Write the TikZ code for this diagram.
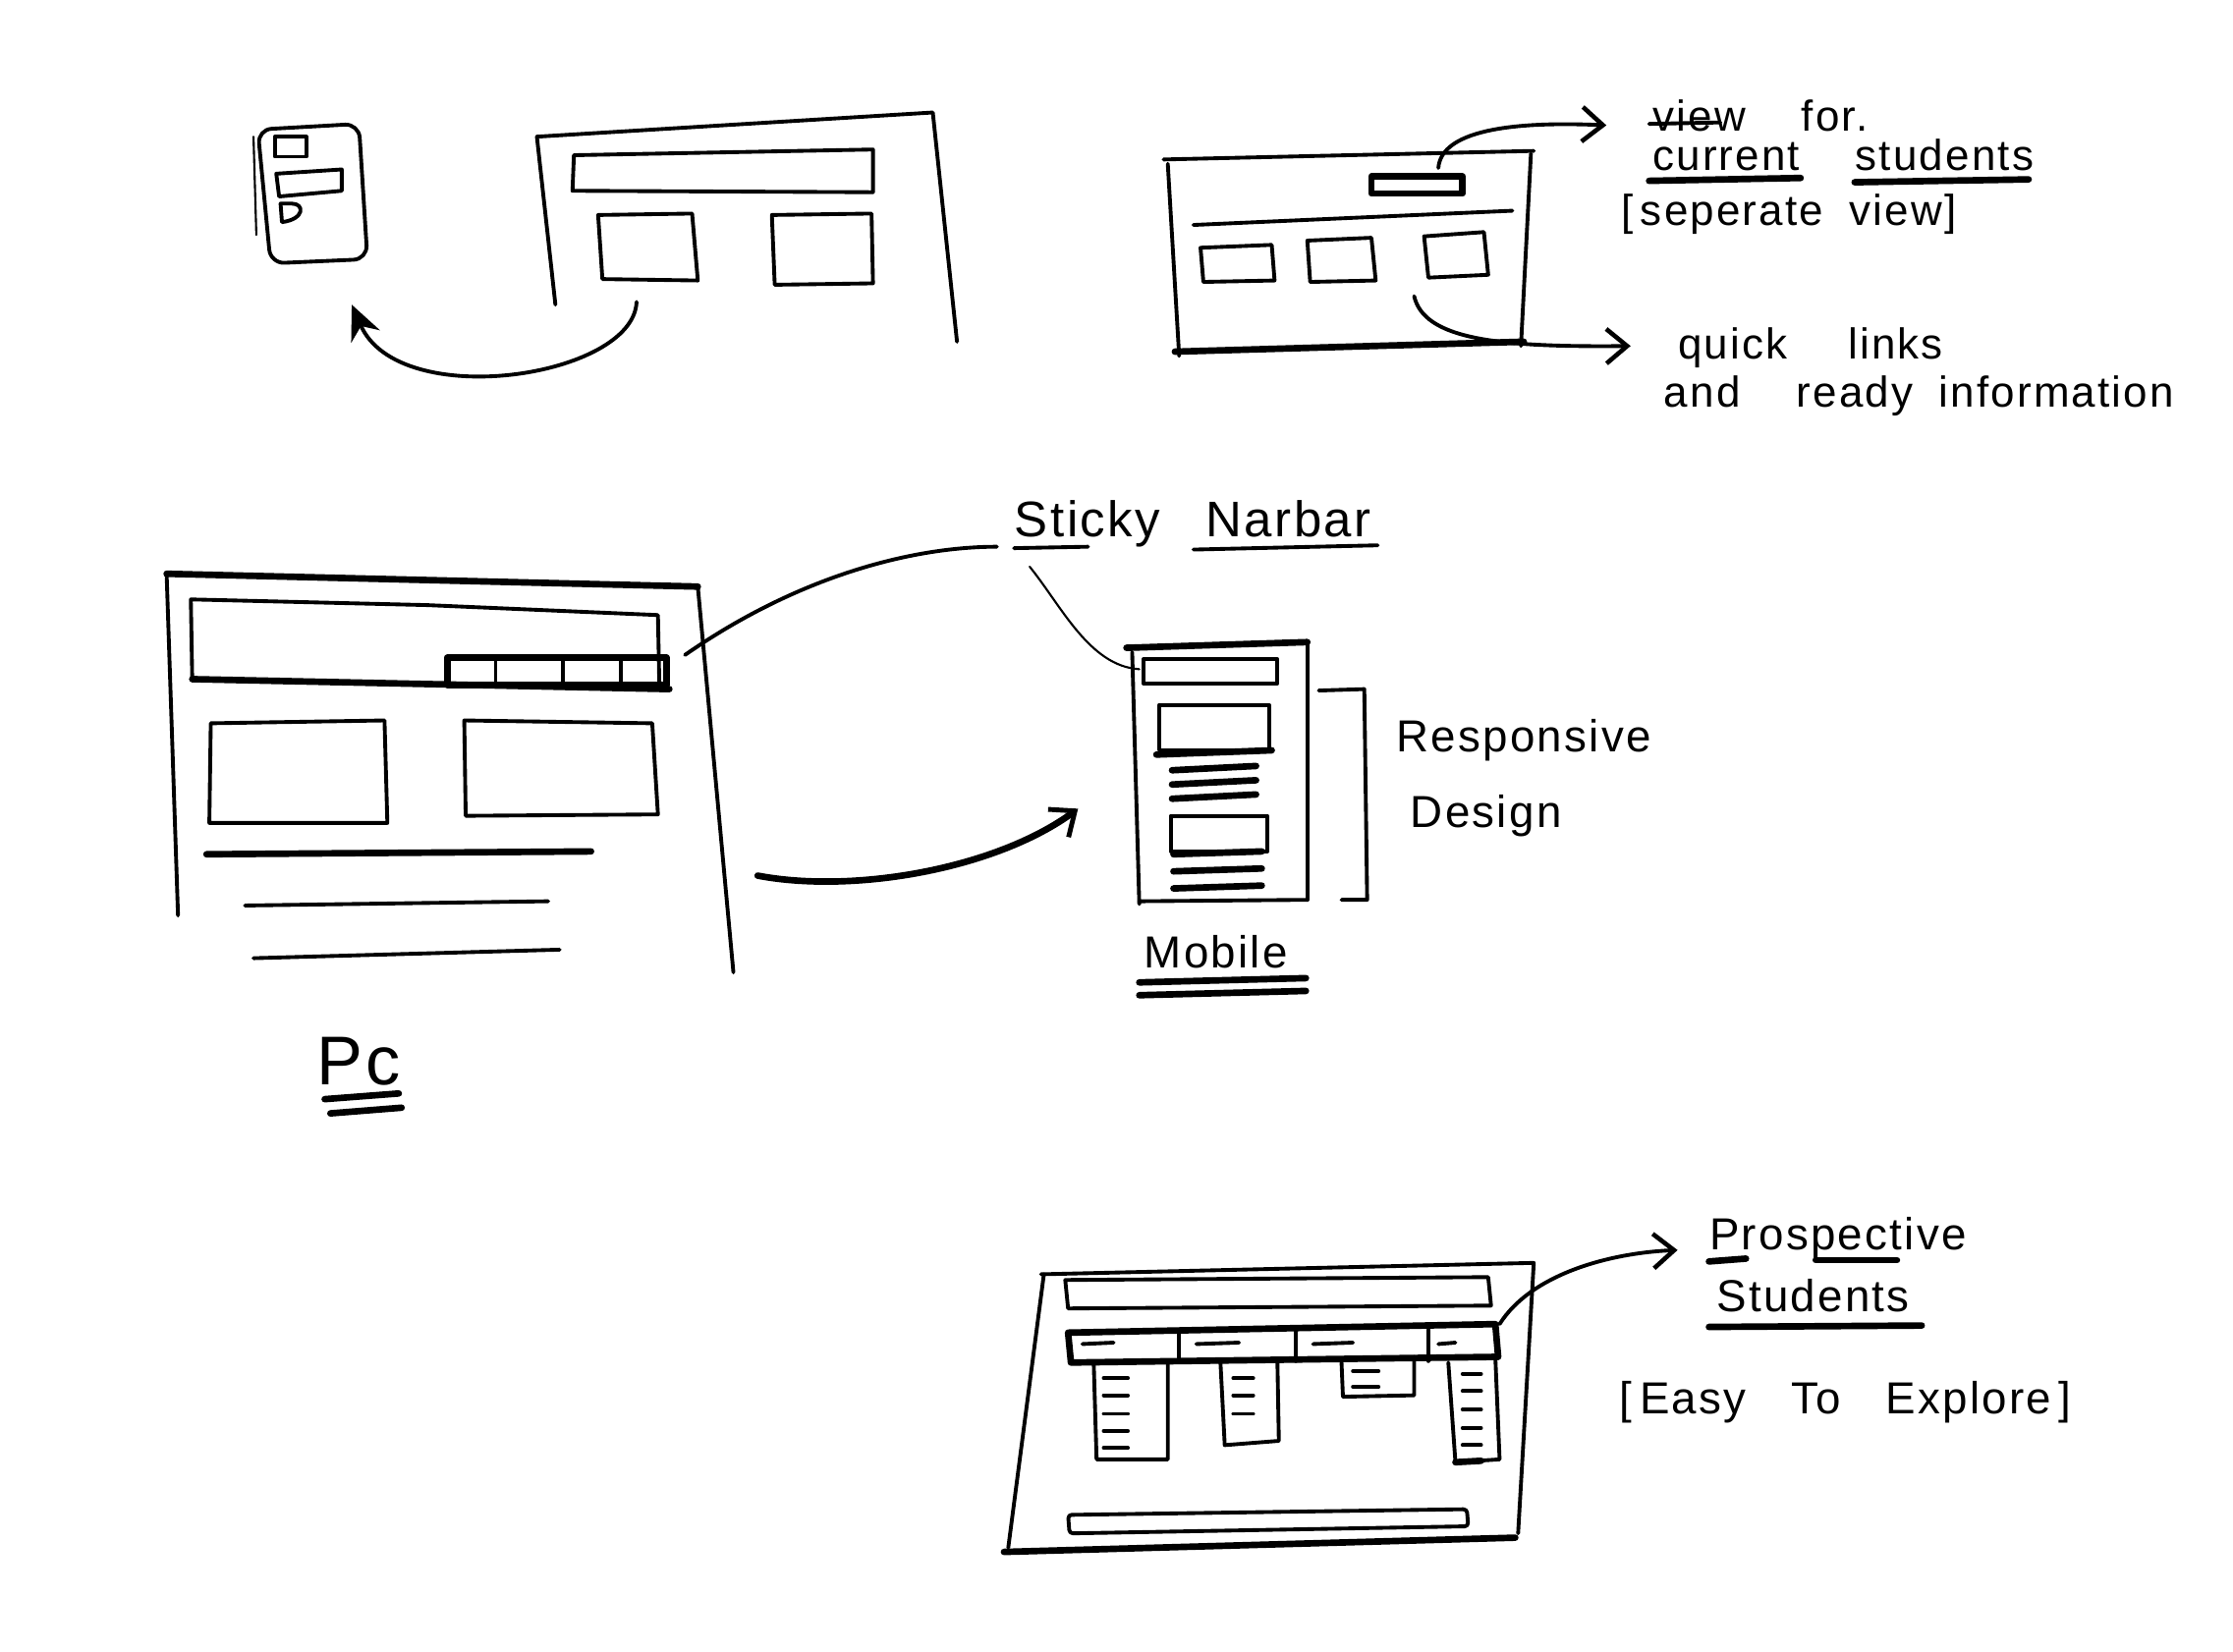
\documentclass[tikz,border=0pt]{standalone}
\usepackage{fontspec}
\setmainfont{Liberation Sans}[LetterSpace=5]
\usetikzlibrary{positioning, arrows.meta, calc}

\begin{document}
\begin{tikzpicture}[
    x=0.014497cm, y=-0.014497cm,
    pen/.style={line width=1.1pt, line cap=round, line join=round},
    heavy/.style={line width=1.9pt, line cap=round, line join=round},
    fine/.style={line width=0.6pt, line cap=round},
    arrow/.style={pen, -{Straight Barb[length=6pt, width=10pt, line width=1.3pt]}},
    label/.style={font=\fontsize{12.5}{14}\selectfont, inner sep=0pt, anchor=base west},
]
\useasboundingbox (0,0) rectangle (1568,1160);

%% NODES
    % current students view
    \node[label] (view_for) at (1160,92) {view\hspace{1.3em}for.};
    \node[label] (current_txt) at (1160,120) {current};
    \node[label, right=0.55cm of current_txt.base east, anchor=base west] (students_txt) {students};
    \node[label] (separate_txt) at (1138,158) {[\,seperate\hspace{0.6em}view]};
    \node[label] (quick_txt) at (1178,252) {quick\hspace{1.4em}links};
    \node[label] (ready_txt) at (1168,286) {and\hspace{1.3em}ready\hspace{0.6em}information};

    % pc / mobile
    \node[label, font=\fontsize{14.5}{16}\selectfont] (sticky_txt) at (712,377) {Sticky\hspace{0.9em}Narbar};
    \node[label, font=\fontsize{13}{15}\selectfont] (responsive_txt) at (980,528) {Responsive};
    \node[label, font=\fontsize{13}{15}\selectfont] (design_txt) at (990,581) {Design};
    \node[label, font=\fontsize{13}{15}\selectfont] (mobile_txt) at (803,680) {Mobile};
    \node[label, font=\fontsize{20}{22}\selectfont] (pc_txt) at (222,762) {Pc};

    % prospective students
    \node[label, font=\fontsize{13}{15}\selectfont] (prospective_txt) at (1200,878) {Prospective};
    \node[label, font=\fontsize{13}{15}\selectfont] (pstudents_txt) at (1205,921) {Students};
    \node[label, font=\fontsize{13}{15}\selectfont] (explore_txt) at (1137,993) {[\,Easy\hspace{1em}To\hspace{1em}Explore\,]};

    % connector ends
    \coordinate (phone_tip) at (247,214);
    \coordinate (pc_small) at (447,212);
    \coordinate (cs_bar) at (1010,118);
    \coordinate (cs_tip) at (1128,88);
    \coordinate (cs_links) at (993,208);
    \coordinate (links_tip) at (1145,243);
    \coordinate (nav_pc) at (481,460);
    \coordinate (sticky_in) at (700,384);
    \coordinate (sticky_out) at (723,398);
    \coordinate (nav_mobile) at (800,470);
    \coordinate (pc_out) at (532,615);
    \coordinate (mobile_tip) at (757,568);
    \coordinate (menu_bar) at (1053,930);
    \coordinate (prospective_tip) at (1178,878);

%% SHAPES
    % small phone (top left)
    \draw[pen, rounded corners=4] (181,91) -- (252,87) -- (258,182) -- (190,185) -- cycle;
    \draw[fine] (178,96) -- (180,165);
    \draw[pen] (193,96) rectangle (215,110);
    \draw[pen] (194,122) -- (240,119) -- (240,134) -- (196,138) -- cycle;
    \draw[pen] (198,156) -- (197,143) -- (205,143) .. controls (214,143) and (214,154) .. (198,156);

    % small pc (top left)
    \draw[pen] (390,214) -- (377,96) -- (655,79) -- (672,240);
    \draw[pen] (403,109) -- (613,105) -- (613,135) -- (402,134) -- cycle;
    \draw[pen] (420,151) -- (486,150) -- (490,197) -- (423,196) -- cycle;
    \draw[pen] (542,151) -- (612,150) -- (613,199) -- (544,200) -- cycle;

    % current students window
    \draw[pen] (817,112) -- (1077,106);
    \draw[pen] (820,115) -- (828,250);
    \draw[pen] (1075,108) -- (1068,243);
    \draw[heavy] (825,247) -- (1070,240);
    \draw[heavy] (963,124) rectangle (1027,136);
    \draw[pen] (838,158) -- (1062,148);
    \draw[pen] (843,174) -- (893,172) -- (895,197) -- (845,198) -- cycle;
    \draw[pen] (918,169) -- (963,167) -- (966,197) -- (920,198) -- cycle;
    \draw[pen] (1000,166) -- (1042,163) -- (1045,193) -- (1003,195) -- cycle;

    % pc
    \draw[pen] (125,643) -- (117,403);
    \draw[heavy] (117,403) -- (490,412);
    \draw[pen] (490,412) -- (515,683);
    \draw[pen] (135,478) -- (134,421) -- (300,425) -- (462,432) -- (463,482);
    \draw[heavy] (135,477) -- (470,484);
    \draw[heavy] (314,462) rectangle (468,481);
    \foreach \x in {348,395,436}
        \draw[pen] (\x,462) -- (\x,481);
    \draw[pen] (148,508) -- (270,506) -- (272,578) -- (147,578) -- cycle;
    \draw[pen] (326,506) -- (458,508) -- (462,572) -- (327,573) -- cycle;
    \draw[heavy] (145,600) -- (415,598);
    \draw[pen] (172,636) -- (385,633);
    \draw[pen] (178,673) -- (393,667);
    \draw[heavy] (228,772) -- (280,768);
    \draw[heavy] (232,782) -- (282,778);

    % mobile
    \draw[pen] (800,635) -- (795,458);
    \draw[heavy] (791,455) -- (918,451);
    \draw[pen] (918,451) -- (918,632);
    \draw[pen] (800,633) -- (918,632);
    \draw[pen] (803,463) rectangle (897,480);
    \draw[pen] (814,495) rectangle (891,527);
    \draw[heavy] (812,530) -- (893,527);
    \foreach \y in {541,551,561}
        \draw[heavy] (823,\y) -- (882,\y-3);
    \draw[pen] (822,573) rectangle (890,598);
    \foreach \y in {600,612,624}
        \draw[heavy] (824,\y) -- (886,\y-2);
    \draw[pen] (926,485) -- (958,484) -- (960,632) -- (942,632);
    \draw[heavy] (800,690) -- (917,687);
    \draw[heavy] (800,699) -- (917,696);

    % prospective students window
    \draw[pen] (731,895) -- (1077,887) -- (1066,1077);
    \draw[pen] (733,895) -- (708,1087);
    \draw[heavy] (705,1090) -- (1064,1080);
    \draw[pen] (748,899) -- (1045,897) -- (1047,917) -- (750,919) -- cycle;
    \draw[heavy] (750,936) -- (1050,930) -- (1052,953) -- (752,957) -- cycle;
    \foreach \x in {828,910,1003}
        \draw[pen] (\x,934) -- (\x,956);
    \foreach \x/\w in {760/22,840/30,922/28,1010/12}
        \draw[pen] (\x,944) -- (\x+\w,943);
    \draw[pen] (768,957) -- (770,1025) -- (820,1025) -- (820,957);
    \foreach \y in {968,980,993,1005,1017}
        \draw[pen] (775,\y) -- (792,\y);
    \draw[pen] (857,957) -- (860,1015) -- (898,1012) -- (897,957);
    \foreach \y in {968,980,993}
        \draw[pen] (866,\y) -- (880,\y);
    \draw[pen] (942,957) -- (943,981) -- (993,980) -- (993,953);
    \foreach \y in {963,974}
        \draw[pen] (950,\y) -- (968,\y);
    \draw[pen] (1017,957) -- (1022,1027) -- (1053,1025) -- (1050,953);
    \foreach \y in {965,977,990,1003,1015}
        \draw[pen] (1027,\y) -- (1040,\y);
    \draw[heavy] (1022,1027) -- (1040,1026);
    \draw[pen, rounded corners=1] (750,1064) -- (1030,1060) -- (1031,1072) -- (751,1077) -- cycle;

    % strike-out and underlines
    \draw[pen] ($(view_for.base west)+(-2,-5)$) -- ($(view_for.base west)+(48,-6)$);
    \draw[heavy] ($(current_txt.base west)+(-2,7)$) -- ($(current_txt.base east)+(0,5)$);
    \draw[heavy] ($(students_txt.base west)+(0,8)$) -- ($(students_txt.base east)+(-4,6)$);
    \draw[pen] ($(sticky_txt.base west)+(0,8)$) -- ($(sticky_txt.base west)+(52,7)$);
    \draw[pen] ($(sticky_txt.base west)+(126,9)$) -- ($(sticky_txt.base east)+(4,6)$);
    \draw[heavy] ($(prospective_txt.base west)+(0,8)$) -- ($(prospective_txt.base west)+(26,6)$);
    \draw[heavy] ($(prospective_txt.base west)+(75,7)$) -- ($(prospective_txt.base west)+(132,7)$);
    \draw[heavy] ($(pstudents_txt.base west)+(-5,11)$) -- ($(pstudents_txt.base east)+(8,10)$);

%% CONNECTIONS
    % small pc -> small phone
    \draw[arrow, -{Stealth[length=10pt, width=9pt]}] (pc_small) .. controls (445,265) and (280,290) .. (phone_tip);

    % window bar -> current students
    \draw[arrow] (cs_bar) .. controls (1012,92) and (1060,85) .. (cs_tip);

    % window boxes -> quick links
    \draw[arrow] (cs_links) .. controls (1000,238) and (1050,244) .. (links_tip);

    % pc navbar -> sticky navbar -> mobile navbar
    \draw[pen] (nav_pc) .. controls (560,405) and (640,384) .. (sticky_in);
    \draw[fine] (sticky_out) .. controls (745,425) and (765,468) .. (nav_mobile);

    % pc -> mobile
    \draw[heavy, -{Straight Barb[length=6pt, width=10pt, line width=1.4pt]}] (pc_out) .. controls (600,628) and (700,610) .. (mobile_tip);

    % menu bar -> prospective students
    \draw[arrow] (menu_bar) .. controls (1075,895) and (1130,880) .. (prospective_tip);

\end{tikzpicture}
\end{document}
